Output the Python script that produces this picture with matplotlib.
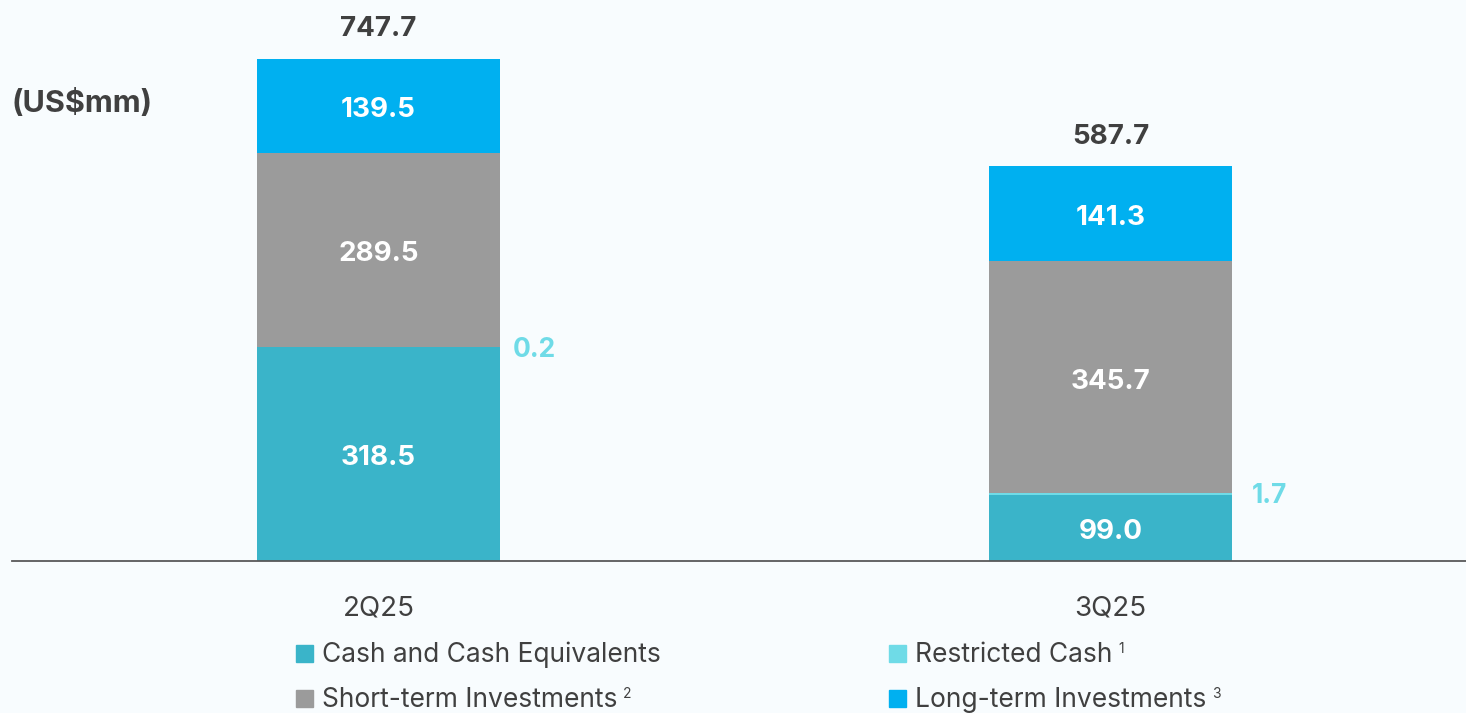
import matplotlib.pyplot as plt
from matplotlib.patches import Rectangle

plt.rcParams['font.family'] = ['Inter', 'DejaVu Sans']

# data
quarters = ['2Q25', '3Q25']
cash = [318.5, 99.0]
restricted = [0.2, 1.7]
short_term = [289.5, 345.7]
long_term = [139.5, 141.3]
totals = [747.7, 587.7]
legend_labels = ['Cash and Cash Equivalents', 'Restricted Cash',
                 'Short-term Investments', 'Long-term Investments']
legend_notes = ['', '1', '2', '3']

c_cash = '#3ab4c9'
c_restr = '#6fdbe7'
c_short = '#9b9b9b'
c_long = '#00b0f0'
c_text = '#404040'
bg = '#f8fcfe'

W, H = 1466, 713
fig = plt.figure(figsize=(W / 100, H / 100), dpi=100, facecolor=bg)
ax = fig.add_axes([12 / W, (H - 561) / H, (W - 12) / W, 561 / H])
ax.set_facecolor(bg)

x = [0, 1]
bw = 0.332
b1 = cash
b2 = [a + b for a, b in zip(b1, restricted)]
b3 = [a + b for a, b in zip(b2, short_term)]
ax.bar(x, cash, bw, color=c_cash, zorder=2)
ax.bar(x, restricted, bw, bottom=b1, color=c_restr, zorder=2)
ax.bar(x, short_term, bw, bottom=b2, color=c_short, zorder=2)
ax.bar(x, long_term, bw, bottom=b3, color=c_long, zorder=2)

ax.set_xlim(-0.5007, 1.4857)
ax.set_ylim(0, 835.6)
for s in ['top', 'left', 'right']:
    ax.spines[s].set_visible(False)
ax.spines['bottom'].set_color('#595959')
ax.spines['bottom'].set_linewidth(1.3)
ax.set_yticks([])
ax.set_xticks(x)
ax.set_xticklabels(quarters, fontsize=20, color=c_text)
ax.tick_params(axis='x', length=0, pad=25)

# inside labels
inner = [(cash, [c / 2 for c in cash]),
         (short_term, [b + s / 2 for b, s in zip(b2, short_term)]),
         (long_term, [b + l / 2 for b, l in zip(b3, long_term)])]
for i in x:
    for vals, mids in inner:
        ax.annotate(f'{vals[i]:.1f}', (i, mids[i]), xytext=(0, -3), textcoords='offset points',
                    ha='center', va='center', color='white', fontsize=20,
                    fontweight='bold', zorder=3)
    ax.annotate(f'{totals[i]:.1f}', (i, totals[i]), xytext=(0, 12), textcoords='offset points',
                ha='center', va='bottom', color=c_text, fontsize=20, fontweight='bold')
    ax.annotate(f'{restricted[i]:.1f}', (i + bw / 2, b2[i]), xytext=(9 + 5 * i, -2),
                textcoords='offset points', ha='left', va='center',
                color=c_restr, fontsize=19, fontweight='bold')

fig.text(12 / W, 1 - 104 / H, '(US$mm)', ha='left', va='center',
         color=c_text, fontsize=22, fontweight='bold')

# legend
leg_colors = [c_cash, c_restr, c_short, c_long]
leg_x = [296, 889, 296, 889]
leg_y = [653, 653, 698, 698]
for col, lab, note, lx, ly in zip(leg_colors, legend_labels, legend_notes, leg_x, leg_y):
    fig.add_artist(Rectangle((lx / W, 1 - (ly + 8.5) / H), 17 / W, 17 / H,
                             transform=fig.transFigure, color=col))
    t = fig.text((lx + 26) / W, 1 - (ly + 2) / H, lab, ha='left', va='center',
                 color=c_text, fontsize=19)
    if note:
        ax.annotate(note, xy=(1, 1), xycoords=t, xytext=(4, 0), textcoords='offset points',
                    ha='left', va='top', color=c_text, fontsize=10, annotation_clip=False)

fig.savefig('out.png', dpi=100, facecolor=bg)
